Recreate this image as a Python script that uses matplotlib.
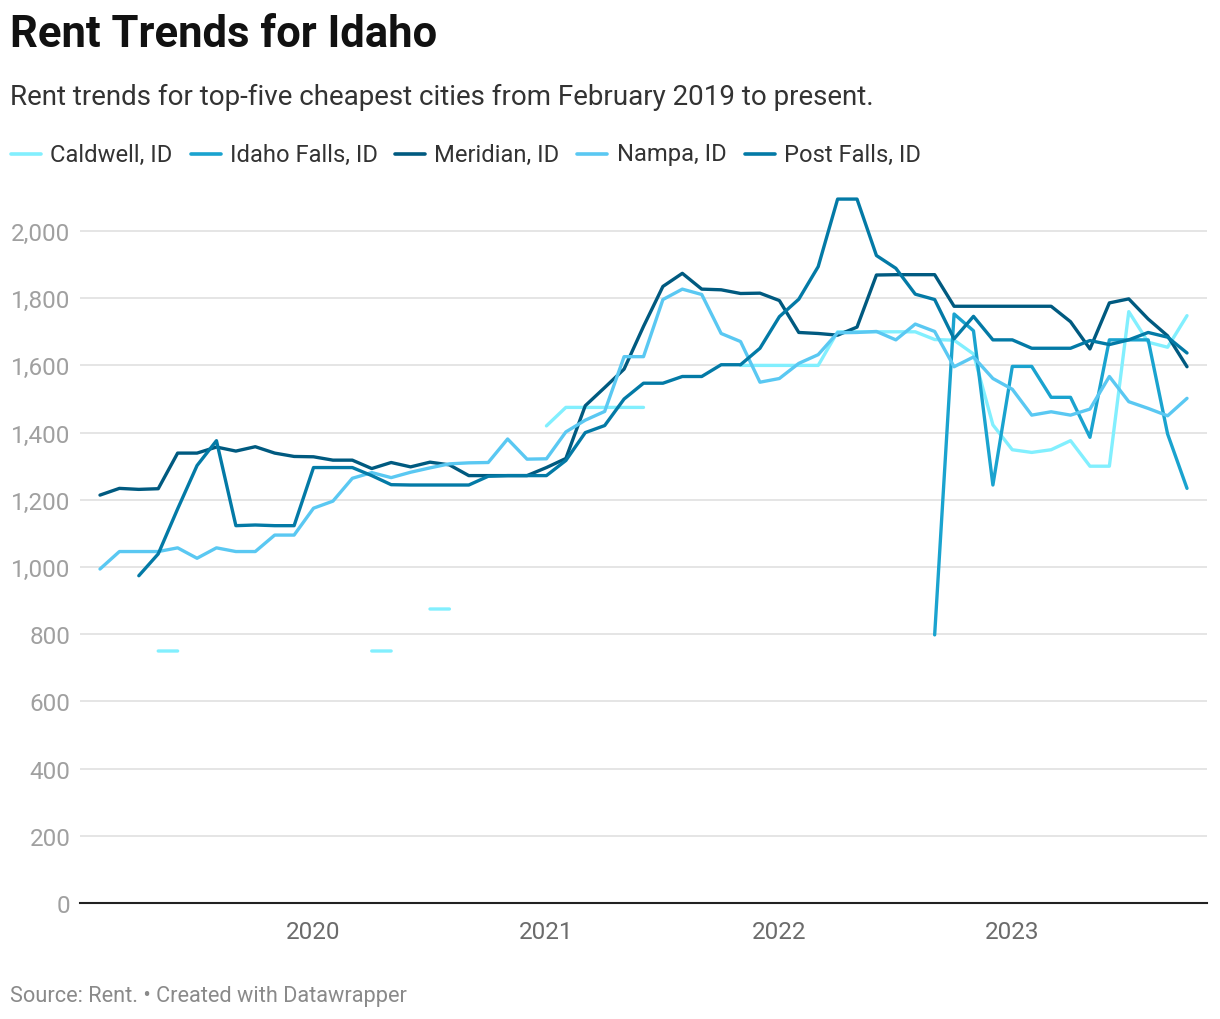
import numpy as np
import matplotlib
matplotlib.use("Agg")
import matplotlib.pyplot as plt
from matplotlib.lines import Line2D
from matplotlib.ticker import FuncFormatter

plt.rcParams['font.family'] = ['Roboto', 'DejaVu Sans']

N = np.nan
# Monthly, Feb 2019 .. Oct 2023 (57 months)
months = np.arange(57)
year_ticks = [11, 23, 35, 47]
year_labels = ["2020", "2021", "2022", "2023"]

series_names = ["Caldwell, ID", "Idaho Falls, ID", "Meridian, ID", "Nampa, ID", "Post Falls, ID"]
colors = ["#82effe", "#1aa3cf", "#005a80", "#5ac8f2", "#037aa6"]

caldwell = [N, N, N, 750, 750, N, N, N, N, N, N, N, N, N, 750, 750, N, 875, 875, N,
            N, N, N, 1420, 1475, 1475, 1475, 1475, 1475, N, N, N, N, 1600, 1600, 1600,
            1600, 1600, 1700, 1700, 1700, 1700, 1700, 1677, 1675, 1634, 1423, 1349, 1341,
            1349, 1376, 1300, 1300, 1760, 1669, 1654, 1748]
idaho_falls = [N] * 43 + [798, 1753, 1703, 1244, 1597, 1597, 1505, 1505, 1386, 1676,
                          1676, 1676, 1396, 1234]
meridian = [1214, 1234, 1231, 1233, 1339, 1339, 1357, 1345, 1358, 1339, 1329, 1328,
            1318, 1318, 1293, 1311, 1298, 1312, 1304, 1272, 1272, 1272, 1272, 1296,
            1323, 1480, 1534, 1589, 1716, 1835, 1874, 1827, 1825, 1814, 1815, 1793,
            1698, 1695, 1690, 1714, 1869, 1870, 1870, 1870, 1776, 1776, 1776, 1776,
            1776, 1776, 1730, 1649, 1786, 1798, 1738, 1688, 1596]
nampa = [994, 1046, 1046, 1046, 1057, 1026, 1057, 1046, 1046, 1095, 1095, 1175, 1196,
         1264, 1281, 1266, 1282, 1295, 1307, 1310, 1311, 1381, 1321, 1322, 1402, 1437,
         1463, 1626, 1626, 1796, 1827, 1811, 1695, 1671, 1550, 1561, 1606, 1632, 1697,
         1698, 1701, 1676, 1723, 1701, 1596, 1625, 1561, 1529, 1452, 1462, 1452, 1470,
         1567, 1492, 1472, 1450, 1502]
post_falls = [N, N, 974, 1039, 1173, 1302, 1376, 1123, 1125, 1123, 1123, 1296, 1296,
              1296, 1272, 1245, 1244, 1244, 1244, 1244, 1270, 1272, 1272, 1272, 1317,
              1400, 1421, 1500, 1547, 1547, 1567, 1567, 1602, 1602, 1651, 1745, 1797,
              1894, 2095, 2095, 1927, 1889, 1812, 1796, 1679, 1746, 1676, 1676, 1651,
              1651, 1651, 1674, 1662, 1676, 1698, 1684, 1637]
all_series = [caldwell, idaho_falls, meridian, nampa, post_falls]

y_ticks = [0, 200, 400, 600, 800, 1000, 1200, 1400, 1600, 1800, 2000]

W, H = 1220, 1020
fig = plt.figure(figsize=(W / 100, H / 100), dpi=100)
fig.patch.set_facecolor("white")

def fx(px):
    return px / W

def fy(py):
    return 1 - py / H

ax_left, ax_right, ax_bottom, ax_top = 80, 1207, 904, 198
ax = fig.add_axes([fx(ax_left), fy(ax_bottom), fx(ax_right - ax_left), (ax_bottom - ax_top) / H])

ymax = (ax_bottom - ax_top) / 0.336
ax.set_ylim(0, ymax)
ax.set_xlim(-1.03, 57.03)

for name, vals, c in zip(series_names, all_series, colors):
    ax.plot(months, np.array(vals, dtype=float), color=c, lw=2.4,
            solid_capstyle="round", solid_joinstyle="round", clip_on=False, zorder=3)

ax.set_yticks(y_ticks)
ax.yaxis.set_major_formatter(FuncFormatter(lambda v, p: f"{int(v):,}"))
ax.set_xticks(year_ticks)
ax.set_xticklabels(year_labels)
ax.grid(axis="y", color="#e3e3e3", lw=1.3, zorder=0)
ax.grid(axis="x", visible=False)
for s in ["top", "right", "left"]:
    ax.spines[s].set_visible(False)
ax.spines["bottom"].set_color("#222222")
ax.spines["bottom"].set_linewidth(1.5)
ax.spines["bottom"].set_zorder(4)
ax.tick_params(axis="y", length=0, pad=7, labelsize=17.5, labelcolor="#a0a0a0")
ax.tick_params(axis="x", length=0, pad=12, labelsize=17.5, labelcolor="#6b6b6b")
for lbl in ax.get_yticklabels():
    lbl.set_horizontalalignment("right")

# Title and subtitle
fig.text(fx(10), fy(35), "Rent Trends for Idaho", fontsize=31.4, fontweight="bold",
         color="#111111", va="center", ha="left")
fig.text(fx(10), fy(97), "Rent trends for top-five cheapest cities from February 2019 to present.",
         fontsize=20, color="#333333", va="center", ha="left")

# Legend
legend_pos = [(11, 41, 50), (191, 221, 230), (395, 425, 434), (577, 607, 617), (745, 775, 784)]
for (x0, x1, xt), name, c in zip(legend_pos, series_names, colors):
    fig.add_artist(Line2D([fx(x0), fx(x1)], [fy(155), fy(155)], color=c, lw=2.6,
                          solid_capstyle="round", transform=fig.transFigure))
    fig.text(fx(xt), fy(155), name, fontsize=17.1, color="#333333", va="center", ha="left")

fig.text(fx(10), fy(997), "Source: Rent. \u2022 Created with Datawrapper", fontsize=15.7,
         color="#8a8a8a", va="center", ha="left")

fig.savefig("out.png", dpi=100, facecolor="white")
